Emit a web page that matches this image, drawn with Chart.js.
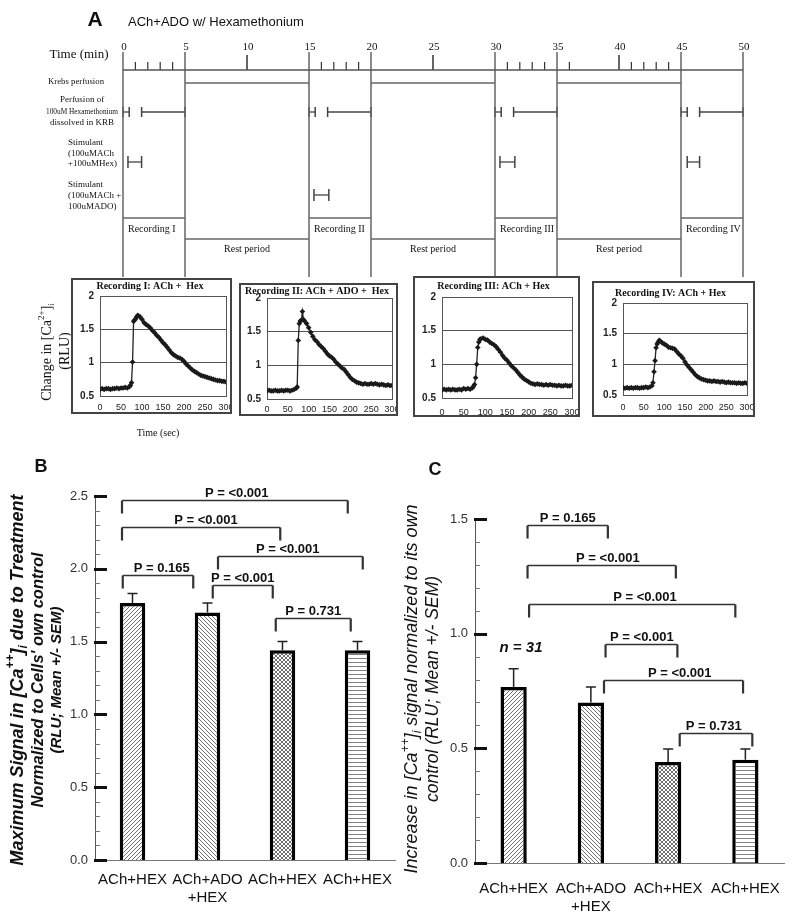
<!DOCTYPE html>
<html>
<head>
<meta charset="utf-8">
<script src="https://cdn.jsdelivr.net/npm/chart.js@4.4.0/dist/chart.umd.min.js"></script>
<style>
  body { margin: 0; background: #fff; }
  #page { position: relative; width: 800px; height: 920px; overflow: hidden; background: #fff; }
  canvas { position: absolute; display: block; }
  .box { position: absolute; box-sizing: border-box; border: 2px solid #444; background: #fff; }
</style>
</head>
<body>
<div id="page"></div>
<script>
// ---------- data ----------
const figTitle = "ACh+ADO w/ Hexamethonium";
const timeTicks = [0, 5, 10, 15, 20, 25, 30, 35, 40, 45, 50];
const timeMinorTicks = [1, 2, 3, 4, 16, 17, 18, 19, 31, 32, 33, 34, 36, 41, 42, 43, 44];
const phaseEdges = [0, 5, 15, 20, 30, 35, 45, 50];
const krebsPeriods = [[5, 15], [20, 30], [35, 45]];
const hexPeriods = [[0, 0.5], [1.5, 5], [15, 15.5], [16.5, 20], [30, 30.5], [31.5, 35], [45, 45.5], [46.5, 50]];
const stimHexPeriods = [[0.4, 1.5], [30.4, 31.6], [45.5, 46.5]];
const stimAdoPeriods = [[15.4, 16.6]];
const recordingPeriods = [[0, 5], [15, 20], [30, 35], [45, 50]];
const recordingNames = ["Recording I", "Recording II", "Recording III", "Recording IV"];
const restPeriods = [[5, 15], [20, 30], [35, 45]];
const krebsLabel = "Krebs perfusion";
const hexLabel = ["Perfusion of", "100uM Hexamethonium", "dissolved in KRB"];
const stimHexLabel = ["Stimulant", "(100uMACh", "+100uMHex)"];
const stimAdoLabel = ["Stimulant", "(100uMACh +", "100uMADO)"];

const sec = [0, 5, 10, 15, 20, 25, 30, 35, 40, 45, 50, 55, 60, 65, 70,
  72.5, 75, 77.5, 80, 82.5, 85, 87.5,
  90, 95, 100, 105, 110, 115, 120, 125, 130, 135, 140, 145, 150, 155, 160, 165, 170, 175, 180,
  185, 190, 195, 200, 205, 210, 215, 220, 225, 230, 235, 240, 245, 250, 255, 260, 265, 270, 275,
  280, 285, 290, 295, 300];
const rec1 = [0.60, 0.61, 0.60, 0.61, 0.61, 0.60, 0.61, 0.61, 0.62, 0.61, 0.62, 0.62, 0.63, 0.62, 0.64,
  0.66, 0.70, 1.01, 1.62, 1.64, 1.66, 1.69,
  1.71, 1.69, 1.65, 1.60, 1.57, 1.55, 1.52, 1.48, 1.45, 1.41, 1.38, 1.34, 1.30, 1.27, 1.23, 1.19, 1.15, 1.12, 1.10,
  1.08, 1.07, 1.05, 1.02, 0.98, 0.95, 0.92, 0.89, 0.87, 0.85, 0.83, 0.81, 0.80, 0.79, 0.78, 0.77, 0.76, 0.75, 0.74,
  0.73, 0.73, 0.72, 0.72, 0.71];
const rec2 = [0.62, 0.63, 0.62, 0.62, 0.63, 0.62, 0.62, 0.63, 0.62, 0.63, 0.63, 0.62, 0.63, 0.64, 0.66,
  0.68, 1.37, 1.62, 1.66, 1.67, 1.80, 1.68,
  1.66, 1.62, 1.56, 1.49, 1.43, 1.38, 1.35, 1.31, 1.28, 1.25, 1.21, 1.17, 1.14, 1.12, 1.09, 1.05, 1.02, 0.99, 0.96,
  0.94, 0.90, 0.86, 0.82, 0.79, 0.77, 0.75, 0.74, 0.73, 0.72, 0.73, 0.72, 0.72, 0.73, 0.72, 0.73, 0.72, 0.71, 0.72,
  0.71, 0.70, 0.71, 0.70, 0.70];
const rec3 = [0.62, 0.63, 0.62, 0.63, 0.62, 0.63, 0.62, 0.62, 0.63, 0.62, 0.64, 0.63, 0.64, 0.63, 0.65,
  0.67, 0.70, 0.80, 1.00, 1.25, 1.33, 1.37,
  1.38, 1.39, 1.37, 1.36, 1.33, 1.31, 1.29, 1.26, 1.22, 1.18, 1.13, 1.09, 1.06, 1.02, 0.98, 0.95, 0.92, 0.88, 0.84,
  0.81, 0.78, 0.76, 0.74, 0.72, 0.71, 0.70, 0.71, 0.70, 0.70, 0.69, 0.70, 0.69, 0.70, 0.69, 0.69, 0.68, 0.69, 0.68,
  0.68, 0.69, 0.68, 0.68, 0.69];
const rec4 = [0.62, 0.61, 0.62, 0.61, 0.62, 0.61, 0.62, 0.62, 0.61, 0.62, 0.62, 0.63, 0.62, 0.63, 0.65,
  0.70, 0.88, 1.06, 1.27, 1.33, 1.36, 1.39,
  1.38, 1.35, 1.33, 1.31, 1.28, 1.27, 1.26, 1.25, 1.21, 1.17, 1.14, 1.10, 1.04, 0.99, 0.95, 0.91, 0.87, 0.83, 0.80,
  0.78, 0.76, 0.75, 0.74, 0.73, 0.73, 0.72, 0.73, 0.72, 0.72, 0.71, 0.72, 0.71, 0.70, 0.71, 0.70, 0.70, 0.70, 0.69,
  0.70, 0.69, 0.69, 0.70, 0.69];
const recTitles = ["Recording I: ACh +  Hex", "Recording II: ACh + ADO +  Hex",
  "Recording III: ACh + Hex", "Recording IV: ACh + Hex"];

const groups = ["ACh+HEX", ["ACh+ADO", "+HEX"], "ACh+HEX", "ACh+HEX"];

const maxSignal = [1.765, 1.70, 1.44, 1.44];
const maxSignalSem = [0.065, 0.065, 0.06, 0.06];
const pB = ["P = <0.001", "P = <0.001", "P = <0.001", "P = 0.165", "P = <0.001", "P = 0.731"];
const pBFrom = [-0.14, -0.14, 1.14, -0.13, 1.07, 1.91];
const pBTo = [2.87, 1.97, 3.07, 0.81, 1.87, 2.91];
const pBLevel = [2.47, 2.29, 2.09, 1.96, 1.89, 1.66];
const pBTextAt = [1.39, 0.98, 2.07, 0.39, 1.47, 2.41];

const increase = [0.767, 0.70, 0.44, 0.45];
const increaseSem = [0.08, 0.067, 0.057, 0.047];
const pC = ["P = 0.165", "P = <0.001", "P = <0.001", "P = <0.001", "P = <0.001", "P = 0.731"];
const pCFrom = [0.18, 0.18, 0.2, 1.19, 1.17, 2.15];
const pCTo = [1.22, 2.1, 2.87, 2.12, 2.97, 3.09];
const pCLevel = [1.474, 1.30, 1.13, 0.955, 0.798, 0.567];
const pCTextAt = [0.70, 1.22, 1.70, 1.66, 2.15, 2.59];

// ---------- helpers ----------
const SANS = "'Liberation Sans', Arial, sans-serif";
const SERIF = "'Liberation Serif', 'Times New Roman', serif";
const page = document.getElementById("page");

function addCanvas(parent, left, top, w, h) {
  const c = document.createElement("canvas");
  c.width = w; c.height = h;
  c.style.left = left + "px"; c.style.top = top + "px";
  parent.appendChild(c);
  return c;
}

// parts: [[text], [text, "sup"], [text, "sub"]]
function drawRich(ctx, parts, cx, cy, size, style, family, rotate) {
  ctx.save();
  ctx.translate(cx, cy);
  if (rotate) ctx.rotate(-Math.PI / 2);
  ctx.textAlign = "left";
  ctx.textBaseline = "middle";
  const fontOf = p => `${style} ${p[1] ? Math.round(size * 0.65) : size}px ${family}`;
  let w = 0;
  parts.forEach(p => { ctx.font = fontOf(p); w += ctx.measureText(p[0]).width; });
  let x0 = -w / 2;
  parts.forEach(p => {
    ctx.font = fontOf(p);
    const dy = p[1] === "sup" ? -size * 0.38 : p[1] === "sub" ? size * 0.3 : 0;
    ctx.fillText(p[0], x0, dy);
    x0 += ctx.measureText(p[0]).width;
  });
  ctx.restore();
}

const noInteract = { events: [], animation: false, responsive: false };

// ---------- timeline (panel A top) ----------
const row = { top: 52, axis: 70, krebs: 83, hex: 112, stimHex: 162, stimAdo: 195, rec: 218, rest: 239, bottom: 277 };
const tlSets = [];
function seg(x1, y1, x2, y2, w, color) {
  tlSets.push({ data: [{ x: x1, y: y1 }, { x: x2, y: y2 }], borderColor: color || "#666",
    borderWidth: w || 1.3, pointRadius: 0, showLine: true, clip: false });
}
seg(0, row.axis, 50, row.axis, 1.5, "#555");
phaseEdges.forEach(t => seg(t, row.top, t, row.bottom, 1.5, "#666"));
timeTicks.filter(t => !phaseEdges.includes(t)).forEach(t => seg(t, 55, t, row.axis, 1.5, "#333"));
timeMinorTicks.forEach(t => seg(t, 62, t, row.axis, 1.2, "#333"));
krebsPeriods.forEach(([a, b]) => seg(a, row.krebs, b, row.krebs, 1.5));
function capped(list, y, h) {
  list.forEach(([a, b]) => {
    seg(a, y, b, y, 1.3, "#444");
    seg(a, y - h, a, y + h, 1.5, "#444");
    seg(b, y - h, b, y + h, 1.5, "#444");
  });
}
capped(hexPeriods, row.hex, 5);
capped(stimHexPeriods, row.stimHex, 6);
capped(stimAdoPeriods, row.stimAdo, 6);
recordingPeriods.forEach(([a, b]) => seg(a, row.rec, b, row.rec, 1.5));
restPeriods.forEach(([a, b]) => seg(a, row.rest, b, row.rest, 1.5));

const timelineText = {
  id: "timelineText",
  afterDraw(chart) {
    const { ctx, scales: { x } } = chart;
    const px = t => x.getPixelForValue(t);
    ctx.save();
    ctx.fillStyle = "#111";
    ctx.textBaseline = "middle";
    ctx.textAlign = "center";
    ctx.font = `bold 21px ${SANS}`;
    ctx.fillText("A", 95, 20);
    ctx.textAlign = "left";
    ctx.font = `13px ${SANS}`;
    ctx.fillText(figTitle, 128, 22);
    ctx.textAlign = "center";
    ctx.font = `13px ${SERIF}`;
    ctx.fillText("Time (min)", 79, 55);
    ctx.font = `11px ${SERIF}`;
    timeTicks.forEach(t => ctx.fillText(String(t), px(t) + 1, 47));
    ctx.font = `9px ${SERIF}`;
    ctx.fillText(krebsLabel, 76, 82, 56);
    hexLabel.forEach((s, i) => ctx.fillText(s, 82, 100 + i * 11.5, 72));
    ctx.textAlign = "left";
    stimHexLabel.forEach((s, i) => ctx.fillText(s, 68, 143 + i * 10.5));
    stimAdoLabel.forEach((s, i) => ctx.fillText(s, 68, 185 + i * 11));
    ctx.font = `10px ${SERIF}`;
    recordingPeriods.forEach(([a], i) => ctx.fillText(recordingNames[i], px(a) + 5, 229));
    ctx.textAlign = "center";
    restPeriods.forEach(([a, b]) => ctx.fillText("Rest period", (px(a) + px(b)) / 2, 249));
    drawRich(ctx, [["Change in [Ca"], ["2+", "sup"], ["]"], ["i", "sub"]], 47, 352, 14, "", SERIF, true);
    drawRich(ctx, [["(RLU)"]], 65, 351, 14, "", SERIF, true);
    ctx.font = `10px ${SERIF}`;
    ctx.fillText("Time (sec)", 158, 433);
    ctx.restore();
  }
};

new Chart(addCanvas(page, 0, 0, 800, 440), {
  type: "scatter",
  data: { datasets: tlSets },
  options: {
    ...noInteract,
    layout: { padding: { left: 123, right: 57, top: 0, bottom: 0 } },
    scales: {
      x: { type: "linear", min: 0, max: 50, display: false },
      y: { type: "linear", min: 0, max: 440, reverse: true, display: false }
    },
    plugins: { legend: { display: false }, tooltip: { enabled: false } }
  },
  plugins: [timelineText]
});

// ---------- recording traces ----------
const recBoxes = [
  { left: 71, top: 278, w: 161, h: 136, plotL: 100, plotR: 227, plotT: 296, plotB: 396, titleY: 286, xLabY: 407 },
  { left: 239, top: 283, w: 159, h: 133, plotL: 267, plotR: 393, plotT: 298, plotB: 399, titleY: 289, xLabY: 409 },
  { left: 413, top: 276, w: 167, h: 141, plotL: 442, plotR: 572, plotT: 297, plotB: 398, titleY: 286, xLabY: 412 },
  { left: 592, top: 281, w: 163, h: 136, plotL: 623, plotR: 747, plotT: 303, plotB: 395, titleY: 293, xLabY: 407 }
];
const traces = [rec1, rec2, rec3, rec4];

const plotFrame = {
  id: "plotFrame",
  beforeDatasetsDraw(chart) {
    const { ctx, chartArea: a } = chart;
    ctx.save();
    ctx.strokeStyle = "#555";
    ctx.lineWidth = 1;
    ctx.strokeRect(Math.round(a.left) + 0.5, Math.round(a.top) + 0.5, Math.round(a.right - a.left), Math.round(a.bottom - a.top));
    ctx.restore();
  }
};

recBoxes.forEach((b, i) => {
  const bw = 2;
  const box = document.createElement("div");
  box.className = "box";
  Object.assign(box.style, { left: b.left + "px", top: b.top + "px", width: b.w + "px", height: b.h + "px" });
  page.appendChild(box);
  const cx0 = b.left + bw, cy0 = b.top + bw, cw = b.w - 2 * bw, ch = b.h - 2 * bw;
  const topH = b.plotT - cy0;
  const tTop = Math.max(0, b.titleY - cy0 - 6);
  const tBot = Math.max(0, topH - tTop - 12);
  const xH = cy0 + ch - b.plotB;
  const canvas = addCanvas(box, 0, 0, cw, ch);
  new Chart(canvas, {
    type: "line",
    data: {
      datasets: [{
        data: sec.map((t, k) => ({ x: t, y: traces[i][k] })),
        borderColor: "#222", borderWidth: 1.3,
        pointStyle: "rectRot", pointRadius: 2.8, pointBackgroundColor: "#1a1a1a", pointBorderWidth: 0
      }]
    },
    options: {
      ...noInteract,
      layout: { padding: { left: 0, right: cx0 + cw - b.plotR, top: 0, bottom: 0 } },
      scales: {
        x: {
          type: "linear", min: 0, max: 300,
          ticks: { stepSize: 50, autoSkip: false, maxRotation: 0, padding: b.xLabY - b.plotB - 5,
            font: { family: SANS, size: 9 }, color: "#222" },
          grid: { display: false, drawTicks: false }, border: { display: false },
          afterFit(s) { s.height = xH; s.paddingLeft = 0; s.paddingRight = 0; }
        },
        y: {
          min: 0.5, max: 2,
          ticks: { stepSize: 0.5, padding: 6, font: { family: SANS, size: 10, weight: "bold" }, color: "#222",
            callback: v => String(v) },
          grid: { color: "#555", drawTicks: false }, border: { display: false },
          afterFit(s) { s.width = b.plotL - cx0; s.paddingTop = 0; s.paddingBottom = 0; }
        }
      },
      plugins: {
        legend: { display: false }, tooltip: { enabled: false },
        title: { display: true, text: recTitles[i], color: "#111",
          font: { family: SERIF, size: 10, weight: "bold", lineHeight: 1.2 },
          padding: { top: tTop, bottom: tBot } }
      }
    },
    plugins: [plotFrame]
  });
});

// ---------- bar panels B and C ----------
function makePattern(kind) {
  const n = 4;
  const c = document.createElement("canvas");
  c.width = n; c.height = n;
  const g = c.getContext("2d");
  g.fillStyle = "#fff"; g.fillRect(0, 0, n, n);
  g.strokeStyle = "#707070"; g.lineWidth = 1;
  const ln = (a, b, c2, d) => { g.beginPath(); g.moveTo(a, b); g.lineTo(c2, d); g.stroke(); };
  if (kind === "fwd" || kind === "cross") { ln(0, n, n, 0); ln(-1, 1, 1, -1); ln(n - 1, n + 1, n + 1, n - 1); }
  if (kind === "back" || kind === "cross") { ln(0, 0, n, n); ln(-1, n - 1, 1, n + 1); ln(n - 1, -1, n + 1, 1); }
  if (kind === "horiz") { g.fillStyle = "#808080"; g.fillRect(0, 2, n, 1); }
  return g.createPattern(c, "repeat");
}
const hatches = [makePattern("fwd"), makePattern("back"), makePattern("cross"), makePattern("horiz")];

function barDecor(cfg) {
  return {
    id: "barDecor",
    afterDraw(chart) {
      const { ctx, chartArea: a, scales: { x, y } } = chart;
      ctx.save();
      // inward ticks
      y.ticks.forEach(t => {
        const py = Math.round(y.getPixelForValue(t.value)) + 0.5;
        const major = Math.round(t.value * 10) % 5 === 0;
        ctx.strokeStyle = major ? "#111" : "#777";
        ctx.lineWidth = major ? 3 : 1;
        ctx.beginPath();
        ctx.moveTo(a.left - (major ? 1 : 0), py);
        ctx.lineTo(a.left + (major ? 12 : 5), py);
        ctx.stroke();
      });
      // error bars (upper)
      ctx.strokeStyle = "#222";
      ctx.lineWidth = 1.5;
      cfg.sem.forEach((s, i) => {
        const cx = x.getPixelForValue(i);
        const base = y.getPixelForValue(cfg.values[i]);
        const top = y.getPixelForValue(cfg.values[i] + s);
        ctx.beginPath();
        ctx.moveTo(cx, base); ctx.lineTo(cx, top);
        ctx.moveTo(cx - 5, top); ctx.lineTo(cx + 5, top);
        ctx.stroke();
      });
      // significance brackets
      ctx.fillStyle = "#111";
      ctx.textAlign = "center";
      ctx.textBaseline = "alphabetic";
      ctx.font = `bold 13px ${SANS}`;
      cfg.from.forEach((f, i) => {
        const x1 = x.getPixelForValue(f), x2 = x.getPixelForValue(cfg.to[i]);
        const py = Math.round(y.getPixelForValue(cfg.level[i])) + 0.5;
        ctx.strokeStyle = "#333";
        ctx.lineWidth = 1.5;
        ctx.beginPath();
        ctx.moveTo(x1, py); ctx.lineTo(x2, py);
        ctx.stroke();
        ctx.lineWidth = 2.2;
        ctx.beginPath();
        ctx.moveTo(x1, py); ctx.lineTo(x1, py + 13);
        ctx.moveTo(x2, py); ctx.lineTo(x2, py + 13);
        ctx.stroke();
        ctx.fillText(cfg.labels[i], x.getPixelForValue(cfg.textAt[i]), py - 4);
      });
      // n, panel letter, axis title
      ctx.font = `italic bold 15px ${SANS}`;
      ctx.fillText("n = 31", cfg.nPos[0], cfg.nPos[1]);
      ctx.font = `bold 18px ${SANS}`;
      ctx.textBaseline = "middle";
      ctx.fillText(cfg.letter, cfg.letterPos[0], cfg.letterPos[1]);
      cfg.title.forEach((line, i) => drawRich(ctx, line, cfg.titleX[i], cfg.titleY, cfg.titleSize[i], cfg.titleStyle, SANS, true));
      ctx.restore();
    }
  };
}

function barPanel(L, values, sem, decor) {
  const canvas = addCanvas(page, L.left, L.top, L.w, L.h);
  new Chart(canvas, {
    type: "bar",
    data: {
      labels: groups,
      datasets: [{
        data: values, backgroundColor: hatches, borderColor: "#000", borderWidth: 3.5,
        barPercentage: 0.34, categoryPercentage: 1
      }]
    },
    options: {
      ...noInteract,
      layout: { padding: { left: 0, right: L.left + L.w - L.plotR, top: L.plotT - L.top, bottom: 0 } },
      scales: {
        x: {
          ticks: { padding: L.xPad, font: { family: SANS, size: 15 }, color: "#111", maxRotation: 0, autoSkip: false },
          grid: { display: false, drawTicks: false },
          border: { display: true, color: "#777", width: 1 },
          afterFit(s) { s.height = L.top + L.h - L.plotB; s.paddingLeft = 0; s.paddingRight = 0; }
        },
        y: {
          min: 0, max: L.yMax,
          ticks: { stepSize: 0.1, autoSkip: false, padding: 7, font: { family: SANS, size: 13 }, color: "#333",
            callback: v => (Math.round(v * 10) % 5 === 0 ? v.toFixed(1) : "") },
          grid: { display: false, drawTicks: false },
          border: { display: true, color: "#555", width: 1 },
          afterFit(s) { s.width = L.plotL - L.left; s.paddingTop = 0; s.paddingBottom = 0; }
        }
      },
      plugins: { legend: { display: false }, tooltip: { enabled: false } }
    },
    plugins: [barDecor(Object.assign({ values, sem }, decor))]
  });
}

barPanel({ left: 0, top: 440, w: 400, h: 480, plotL: 95, plotR: 395, plotT: 496, plotB: 860, yMax: 2.5, xPad: 11 },
  maxSignal, maxSignalSem, {
    from: pBFrom, to: pBTo, level: pBLevel, labels: pB, textAt: pBTextAt,
    nPos: [354, 542], letter: "B", letterPos: [41, 27],
    titleX: [18, 38, 57], titleY: 240, titleSize: [18, 16.5, 15], titleStyle: "italic bold",
    title: [
      [["Maximum Signal in [Ca"], ["++", "sup"], ["]"], ["i", "sub"], [" due to Treatment"]],
      [["Normalized to Cells' own control"]],
      [["(RLU; Mean +/- SEM)"]]
    ]
  });

barPanel({ left: 400, top: 440, w: 400, h: 480, plotL: 475, plotR: 784, plotT: 519, plotB: 863, yMax: 1.5, xPad: 17 },
  increase, increaseSem, {
    from: pCFrom, to: pCTo, level: pCLevel, labels: pC, textAt: pCTextAt,
    nPos: [121, 212], letter: "C", letterPos: [35, 30],
    titleX: [12, 33], titleY: 249, titleSize: [18, 17.5], titleStyle: "italic",
    title: [
      [["Increase in [Ca"], ["++", "sup"], ["]"], ["i", "sub"], [" signal normalized to its own"]],
      [["control (RLU; Mean +/- SEM)"]]
    ]
  });
</script>
</body>
</html>
